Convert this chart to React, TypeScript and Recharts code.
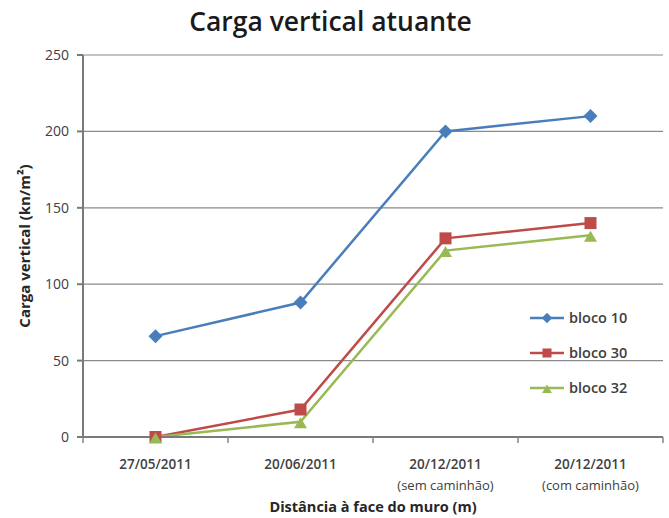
import { CartesianGrid, Legend, Line, LineChart, XAxis, YAxis } from 'recharts';

const dates = ['27/05/2011', '20/06/2011', '20/12/2011', '20/12/2011'];
const notes = ['', '', '(sem caminhão)', '(com caminhão)'];
const bloco10 = [66, 88, 200, 210];
const bloco30 = [0, 18, 130, 140];
const bloco32 = [0, 10, 122, 132];
const yTicks = [0, 50, 100, 150, 200, 250];

const series = [
  { key: 'b10', name: 'bloco 10', color: '#4a7ebb', shape: 'diamond', r: 7 },
  { key: 'b30', name: 'bloco 30', color: '#be4b48', shape: 'square', r: 6 },
  { key: 'b32', name: 'bloco 32', color: '#98b954', shape: 'triangle', r: 6.5 },
];

const data = dates.map((d, i) => ({
  cat: notes[i] ? `${d}|${notes[i]}` : d,
  b10: bloco10[i],
  b30: bloco30[i],
  b32: bloco32[i],
}));

const W = 669;
const H = 518;
const margin = { top: 55, right: 6, bottom: 0, left: 0 };
const yAxisWidth = 83;
const xAxisHeight = 81;
const band = (W - margin.left - margin.right - yAxisWidth) / dates.length;
const font = '"Open Sans", sans-serif';

function Marker({ cx, cy, shape, r, color }: any) {
  if (shape === 'diamond') {
    return <polygon points={`${cx},${cy - r} ${cx + r},${cy} ${cx},${cy + r} ${cx - r},${cy}`} fill={color} />;
  }
  if (shape === 'square') {
    return <rect x={cx - r} y={cy - r} width={r * 2} height={r * 2} fill={color} />;
  }
  // triangle sits a little low, like the spreadsheet marker
  return (
    <polygon points={`${cx},${cy - r * 0.7} ${cx + r},${cy + r} ${cx - r},${cy + r}`} fill={color} />
  );
}

function XTick(props: any) {
  const { x, y, payload, index } = props;
  const [main, sub] = String(payload.value).split('|');
  const half = band / 2;
  return (
    <g>
      <line x1={x - half} x2={x - half} y1={y - 8} y2={y - 2} stroke="#868686" strokeWidth={1.5} />
      {index === dates.length - 1 && (
        <line x1={x + half} x2={x + half} y1={y - 8} y2={y - 2} stroke="#868686" strokeWidth={1.5} />
      )}
      <text x={x} y={y + 24} textAnchor="middle" fontSize={13.5} fontWeight={600} fill="#404040" fontFamily={font}>
        {main}
      </text>
      {sub && (
        <text x={x} y={y + 45} textAnchor="middle" fontSize={13} fill="#404040" fontFamily={font}>
          {sub}
        </text>
      )}
    </g>
  );
}

function dotFor(s: any) {
  return (p: any) => (
    <Marker key={`${s.key}-${p.index}`} cx={p.cx} cy={p.cy} shape={s.shape} r={s.r} color={s.color} />
  );
}

function LegendBox() {
  return (
    <div style={{ fontFamily: font, fontSize: 14.5, fontWeight: 600, color: '#404040' }}>
      {series.map((s) => (
        <div key={s.key} style={{ display: 'flex', alignItems: 'center', height: 35 }}>
          <svg width={38} height={16}>
            <line x1={2} x2={36} y1={8} y2={8} stroke={s.color} strokeWidth={2.5} />
            <Marker cx={19} cy={8} shape={s.shape} r={s.r * 0.75} color={s.color} />
          </svg>
          <span style={{ marginLeft: 3 }}>{s.name}</span>
        </div>
      ))}
    </div>
  );
}

export default function App() {
  return (
    <div style={{ position: 'absolute', left: 0, top: 0, width: W, height: H, background: '#fff' }}>
      <div
        style={{
          position: 'absolute',
          top: 3,
          left: -4,
          width: W,
          textAlign: 'center',
          fontFamily: font,
          fontSize: 26.5,
          fontWeight: 600,
          color: '#1a1a1a',
        }}
      >
        Carga vertical atuante
      </div>
      <LineChart width={W} height={H} data={data} margin={margin}>
        <CartesianGrid vertical={false} stroke="#8a8a8a" strokeWidth={1.2} />
        <XAxis
          dataKey="cat"
          scale="band"
          height={xAxisHeight}
          tickLine={false}
          tick={<XTick />}
          interval={0}
          stroke="#7a7a7a"
          strokeWidth={2}
          tickSize={6}
          label={{
            value: 'Distância à face do muro (m)',
            position: 'insideBottom',
            offset: 6,
            fontSize: 14.5,
            fontWeight: 700,
            fill: '#262626',
            fontFamily: font,
          }}
        />
        <YAxis
          width={yAxisWidth}
          domain={[0, 250]}
          ticks={yTicks}
          stroke="#7a7a7a"
          strokeWidth={2}
          tickSize={6}
          tickMargin={8}
          tick={{ fontSize: 14, fill: '#404040', fontFamily: font }}
          label={{
            value: 'Carga vertical (kn/m²)',
            angle: -90,
            position: 'insideLeft',
            offset: 25,
            style: { textAnchor: 'middle' },
            fontSize: 15,
            fontWeight: 700,
            fill: '#262626',
            fontFamily: font,
          }}
        />
        <Legend
          layout="vertical"
          align="center"
          verticalAlign="middle"
          content={<LegendBox />}
          wrapperStyle={{ left: 528, top: 300, width: 135, height: 105 }}
        />
        {series.map((s) => (
          <Line
            key={s.key}
            dataKey={s.key}
            name={s.name}
            stroke={s.color}
            strokeWidth={2.5}
            dot={dotFor(s)}
            activeDot={false}
            isAnimationActive={false}
          />
        ))}
      </LineChart>
    </div>
  );
}
